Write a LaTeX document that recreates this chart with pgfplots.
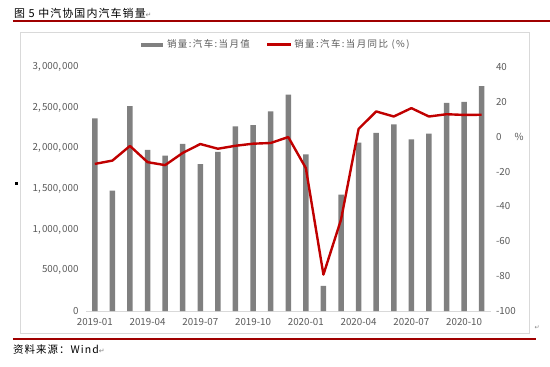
\documentclass[border=0pt]{standalone}
\usepackage{pgfplots}
\pgfplotsset{compat=1.18}
\usepackage{pgfplotstable}
\usepackage{fontspec}
\setmainfont{Noto Sans CJK SC}
\newfontfamily\spaced[LetterSpace=15]{Noto Sans CJK SC}
\newfontfamily\titlefont[LetterSpace=10]{Noto Sans CJK SC}
\newfontfamily\dejavu{DejaVu Sans}
\definecolor{bargray}{HTML}{808080}
\definecolor{linered}{HTML}{C00000}
\definecolor{txtgray}{HTML}{595959}
\definecolor{axgray}{HTML}{D9D9D9}
\definecolor{rulered}{HTML}{A00000}

\pgfplotstableread{
idx sales yoy
0 2367000 -15.6
1 1480000 -13.7
2 2520000 -5.3
3 1980000 -14.6
4 1910000 -16.3
5 2056000 -9.3
6 1806000 -4.2
7 1958000 -6.9
8 2270000 -5.2
9 2285000 -4.0
10 2455000 -3.6
11 2660000 -0.2
12 1925000 -18.0
13 310000 -79.1
14 1430000 -47.6
15 2070000 4.5
16 2190000 14.5
17 2295000 11.6
18 2110000 16.4
19 2180000 11.6
20 2560000 12.9
21 2570000 12.5
22 2765000 12.6
}\data

\begin{document}
\begin{tikzpicture}
\begin{axis}[
  scale only axis,
  width=404.5bp, height=244bp,
  xmin=-0.5, xmax=22.5, ymin=0, ymax=3000000,
  separate axis lines,
  axis x line*=bottom, axis y line*=left,
  x axis line style={draw=axgray, line width=0.8bp, -},
  y axis line style={draw=none},
  xtick={0,3,...,21},
  xticklabels={2019-01,2019-04,2019-07,2019-10,2020-01,2020-04,2020-07,2020-10},
  major x tick style={draw=none},
  extra x ticks={-0.5,2.5,5.5,8.5,11.5,14.5,17.5,20.5},
  extra x tick labels={},
  extra x tick style={tick align=outside, major tick length=4bp, tick style={draw=axgray, line width=0.8bp}},
  ytick={0,500000,...,3000000},
  ytick style={draw=none},
  scaled y ticks=false,
  yticklabel style={/pgf/number format/fixed, /pgf/number format/1000 sep={,\kern1.2bp}, /pgf/number format/assume math mode=true, xshift=-4bp},
  ticklabel style={font=\fontsize{9.8}{11}\selectfont, text=txtgray},
  xticklabel style={yshift=-3.5bp},
  clip=false,
]
\addplot[ybar, bar width=5.5bp, fill=bargray, draw=none] table[x=idx, y=sales] {\data};
\end{axis}

\begin{axis}[
  scale only axis,
  width=404.5bp, height=244bp,
  xmin=-0.5, xmax=22.5, ymin=-100, ymax=40,
  axis x line=none,
  axis y line*=right,
  y axis line style={draw=none},
  ytick={-100,-80,...,40},
  ytick style={draw=none},
  yticklabel style={/pgf/number format/assume math mode=true, font=\fontsize{9.8}{11}\selectfont, text=txtgray, xshift=2bp},
  legend style={draw=none, fill=none, at={(0.468,1.055)}, anchor=south, legend columns=2,
    font=\spaced\fontsize{9.5}{11}\selectfont, text=txtgray,
    /tikz/every even column/.append style={column sep=14bp}},
  clip=false,
]
\addlegendimage{draw=bargray, line width=4bp, legend image code/.code={\draw[bargray, line width=4bp] (0bp,0bp) -- (22bp,0bp);}}
\addlegendentry{销量:汽车:当月值}
\addplot[linered, line width=2.4bp, no markers, line join=round,
  legend image code/.code={\draw[linered, line width=2.4bp] (0bp,0bp) -- (24bp,0bp);}]
  table[x=idx, y=yoy] {\data};
\addlegendentry{销量:汽车:当月同比 (\%)}
\end{axis}

\begin{scope}[x=1bp, y=1bp, shift={(-86bp,-55bp)}]
\path[use as bounding box] (0,0) rectangle (550,366);
\draw[axgray, line width=0.8bp] (20,334) rectangle (529,33);
\draw[rulered, line width=1.2bp] (13,345) -- (550,345);
\draw[rulered, line width=1.2bp] (13,27) -- (536,27);
\node[anchor=west, inner sep=0pt, font=\titlefont\fontsize{11}{12}\selectfont] at (14,353) {图 5 中汽协国内汽车销量{\dejavu\color{gray}\fontsize{7}{8}\selectfont ↵}};
\node[anchor=west, inner sep=0pt, font=\titlefont\fontsize{10.5}{12}\selectfont] at (13,16) {资料来源：Wind{\dejavu\color{gray}\fontsize{7}{8}\selectfont ↵}};
\node[anchor=center, inner sep=0pt, font=\dejavu\fontsize{6}{7}\selectfont, text=gray] at (537,38) {↵};
\fill[black] (15.5,181.5) rectangle (18.5,184.5);
\node[anchor=center, inner sep=0pt, font=\fontsize{9.8}{11}\selectfont, text=txtgray] at (519,229) {\%};
\end{scope}
\end{tikzpicture}
\end{document}
